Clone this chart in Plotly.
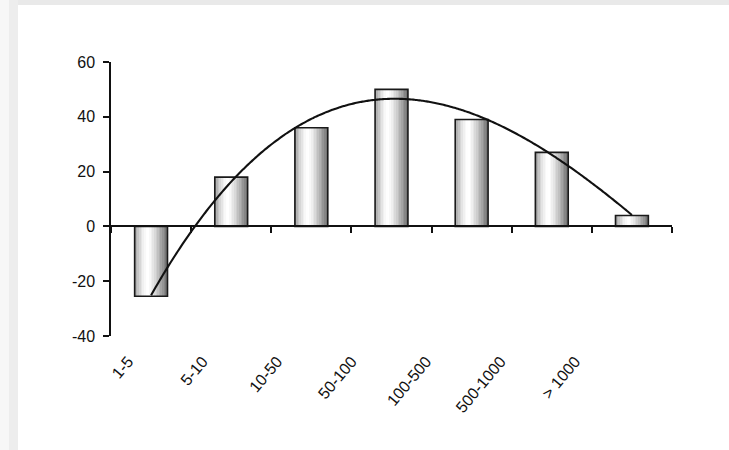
import numpy as np
import plotly.graph_objects as go

categories = ["1-5", "5-10", "10-50", "50-100", "100-500", "500-1000", "> 1000"]
values = [-25.5, 18, 36, 50, 39, 27, 4]
y_ticks = [-40, -20, 0, 20, 40, 60]

# cubic polynomial trendline fitted to the bar values (as in the original chart)
xnum = np.arange(1, len(values) + 1)
coef = np.polyfit(xnum, values, 3)
xs = np.linspace(1, len(values), 200)
ys = np.polyval(coef, xs)

fig = go.Figure()

# gradient-shaded bars built from narrow strips
bar_w = 0.41
n_strips = 20
def shade(p):
    if p < 0.42:
        return 150 + (255 - 150) * np.sin(p / 0.42 * np.pi / 2)
    q = (p - 0.42) / 0.58
    return 255 - (255 - 110) * (q ** 1.3)

for i in range(n_strips):
    p = (i + 0.5) / n_strips
    c = int(round(shade(p)))
    fig.add_trace(go.Bar(
        x=categories, y=values, xaxis="x", yaxis="y",
        width=bar_w / n_strips + 0.002,
        offset=-bar_w / 2 + i * bar_w / n_strips,
        marker=dict(color=f"rgb({c},{c},{c})", line=dict(width=0)),
        showlegend=False, hoverinfo="skip"))

# outline
fig.add_trace(go.Bar(
    x=categories, y=values, xaxis="x", yaxis="y",
    width=bar_w, offset=-bar_w / 2,
    marker=dict(color="rgba(0,0,0,0)", line=dict(color="#1a1a1a", width=1.6)),
    showlegend=False))

# trendline
fig.add_trace(go.Scatter(
    x=xs, y=ys, xaxis="x3", yaxis="y", mode="lines",
    line=dict(color="#111111", width=2.1, shape="spline"),
    showlegend=False))

# invisible carrier so the label axis is drawn
fig.add_trace(go.Scatter(
    x=xnum, y=values, xaxis="x2", yaxis="y", mode="markers",
    marker=dict(opacity=0, size=1), hoverinfo="skip", showlegend=False))

l, r, t, b = 111, 57, 62, 114
W, H = 729 - l - r, 450 - t - b
def px_x(px):
    return (px - l) / W
def px_y(py):
    return (450 - b - py) / H

shapes = [
    dict(type="rect", xref="paper", yref="paper", layer="below",
         x0=px_x(0), x1=px_x(729), y0=px_y(0), y1=px_y(5),
         fillcolor="#e9e9e9", line=dict(width=0)),
    dict(type="rect", xref="paper", yref="paper", layer="below",
         x0=px_x(0), x1=px_x(9), y0=px_y(450), y1=px_y(0),
         fillcolor="#f7f7f7", line=dict(width=0)),
    dict(type="rect", xref="paper", yref="paper", layer="below",
         x0=px_x(9), x1=px_x(18), y0=px_y(450), y1=px_y(0),
         fillcolor="#ededed", line=dict(width=0)),
]

font_name = "Liberation Sans, Arial, sans-serif"

# label axis: Excel-like spacing of the rotated category labels
lab_step_px = 74.5
lab_first_px = 128
span = W / lab_step_px
start = 1 - (lab_first_px - l) / lab_step_px

fig.update_layout(
    width=729, height=450,
    margin=dict(l=l, r=r, t=t, b=b),
    paper_bgcolor="white", plot_bgcolor="white",
    barmode="overlay",
    shapes=shapes,
    xaxis=dict(
        type="category", categoryorder="array", categoryarray=categories,
        range=[-0.5, len(categories) - 0.5],
        anchor="free", position=0.4,
        showline=True, linecolor="#111111", linewidth=1.5,
        ticks="outside", tickson="boundaries", ticklen=6, tickcolor="#111111", tickwidth=1.5,
        showticklabels=False, showgrid=False, zeroline=False),
    xaxis2=dict(
        overlaying="x", anchor="y", side="bottom",
        range=[start, start + span],
        tickmode="array", tickvals=list(xnum), ticktext=categories,
        tickangle=-50, ticks="", showline=False, showgrid=False, zeroline=False,
        ticklabelstandoff=12,
        tickfont=dict(family=font_name, size=16, color="#111111")),
    xaxis3=dict(
        overlaying="x", anchor="y", range=[0.5, len(categories) + 0.5],
        visible=False),
    yaxis=dict(
        range=[-40, 60], tickmode="array", tickvals=y_ticks,
        ticktext=[str(v) for v in y_ticks],
        showline=True, linecolor="#111111", linewidth=1.5,
        ticks="outside", ticklen=6, tickcolor="#111111", tickwidth=1.5,
        ticklabelstandoff=5,
        showgrid=False, zeroline=False,
        tickfont=dict(family=font_name, size=16, color="#111111")),
)

fig.write_html("out.html", config={"displayModeBar": False},
               post_script="document.body.style.margin='0px';")
